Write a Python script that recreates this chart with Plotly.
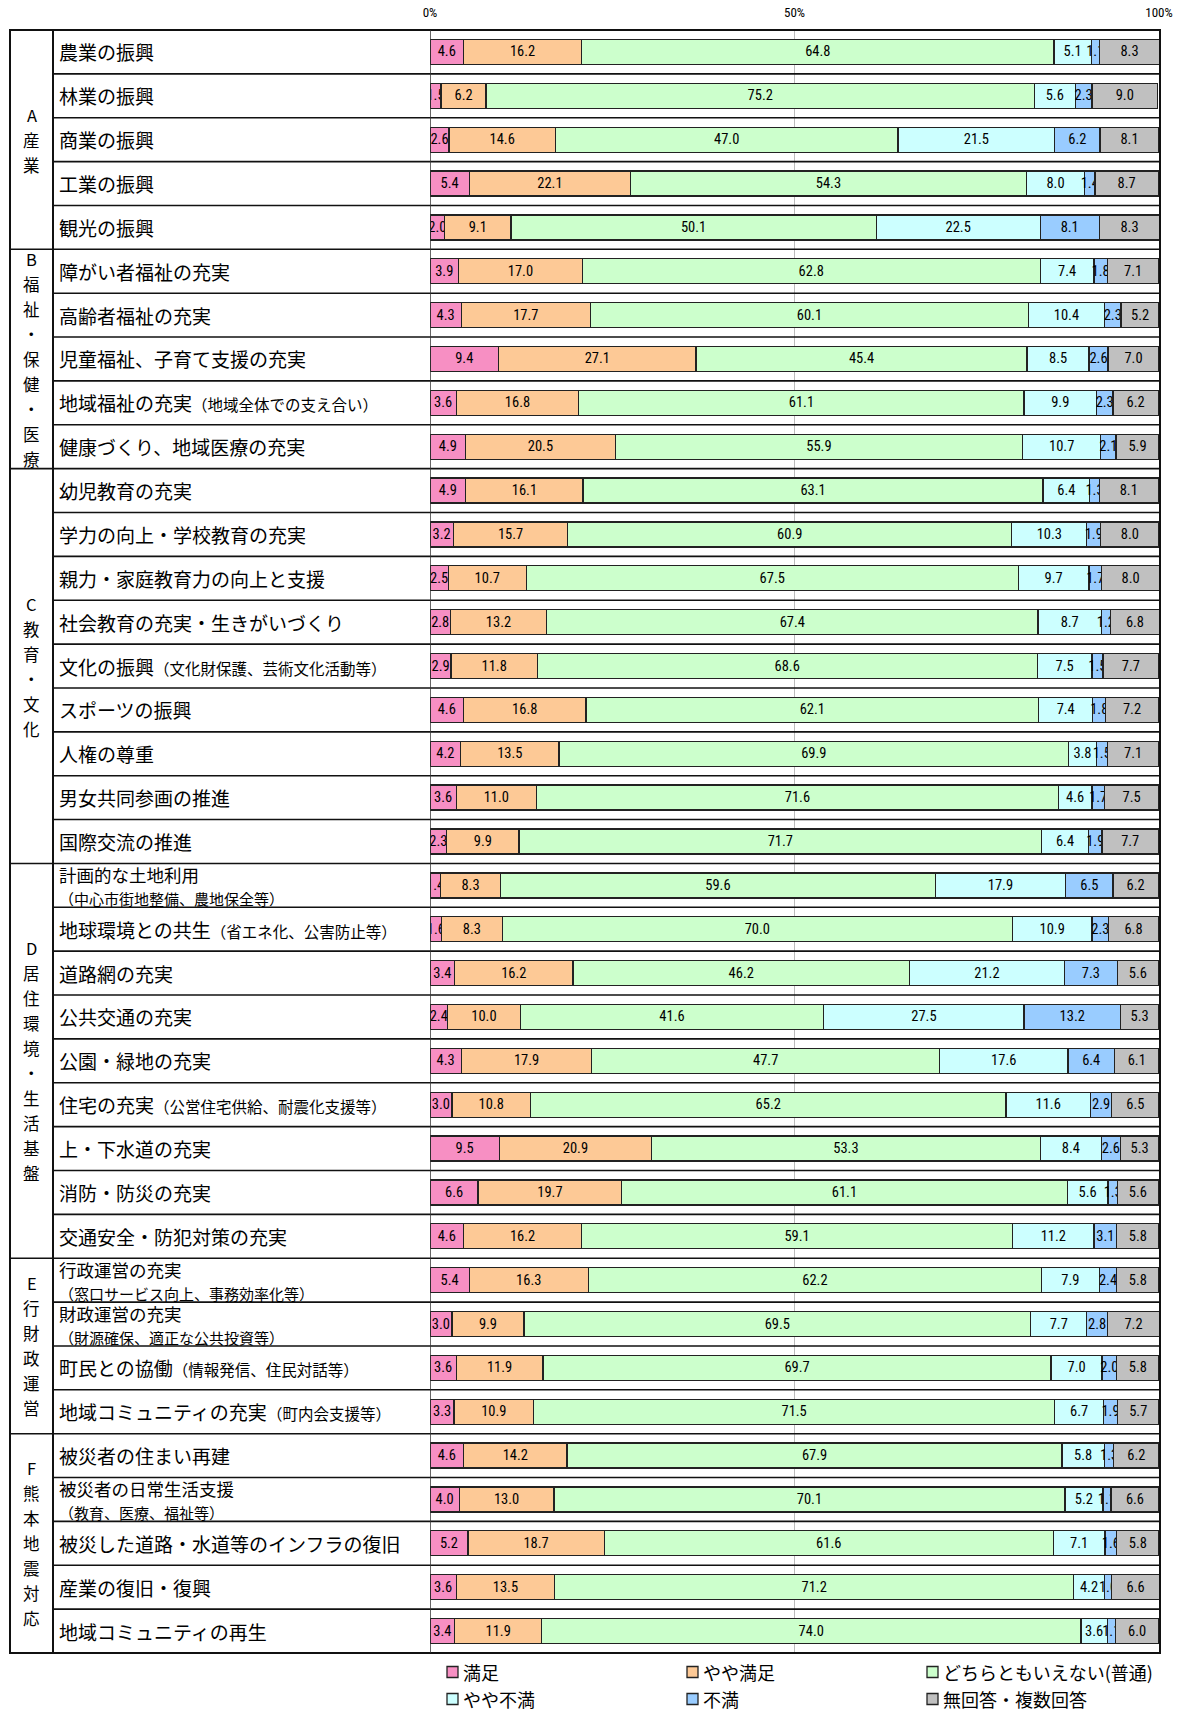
import plotly.graph_objects as go

# ---------------- data ----------------
series_names = ["満足", "やや満足", "どちらともいえない(普通)", "やや不満", "不満", "無回答・複数回答"]

categories = [
    "農業の振興", "林業の振興", "商業の振興", "工業の振興", "観光の振興",
    "障がい者福祉の充実", "高齢者福祉の充実", "児童福祉、子育て支援の充実",
    "地域福祉の充実（地域全体での支え合い）", "健康づくり、地域医療の充実",
    "幼児教育の充実", "学力の向上・学校教育の充実", "親力・家庭教育力の向上と支援",
    "社会教育の充実・生きがいづくり", "文化の振興（文化財保護、芸術文化活動等）",
    "スポーツの振興", "人権の尊重", "男女共同参画の推進", "国際交流の推進",
    "計画的な土地利用（中心市街地整備、農地保全等）", "地球環境との共生（省エネ化、公害防止等）",
    "道路網の充実", "公共交通の充実", "公園・緑地の充実", "住宅の充実（公営住宅供給、耐震化支援等）",
    "上・下水道の充実", "消防・防災の充実", "交通安全・防犯対策の充実",
    "行政運営の充実（窓口サービス向上、事務効率化等）", "財政運営の充実（財源確保、適正な公共投資等）",
    "町民との協働（情報発信、住民対話等）", "地域コミュニティの充実（町内会支援等）",
    "被災者の住まい再建", "被災者の日常生活支援（教育、医療、福祉等）",
    "被災した道路・水道等のインフラの復旧", "産業の復旧・復興", "地域コミュニティの再生",
]

two_line_items = [
    "計画的な土地利用（中心市街地整備、農地保全等）",
    "行政運営の充実（窓口サービス向上、事務効率化等）",
    "財政運営の充実（財源確保、適正な公共投資等）",
    "被災者の日常生活支援（教育、医療、福祉等）",
]

group_labels = ["A産業", "B福祉・保健・医療", "C教育・文化", "D居住環境・生活基盤", "E行財政運営", "F熊本地震対応"]
group_sizes = [5, 5, 9, 9, 4, 5]

satisfied = [4.6, 1.5, 2.6, 5.4, 2.0,
             3.9, 4.3, 9.4, 3.6, 4.9,
             4.9, 3.2, 2.5, 2.8, 2.9, 4.6, 4.2, 3.6, 2.3,
             1.4, 1.6, 3.4, 2.4, 4.3, 3.0, 9.5, 6.6, 4.6,
             5.4, 3.0, 3.6, 3.3,
             4.6, 4.0, 5.2, 3.6, 3.4]
somewhat_satisfied = [16.2, 6.2, 14.6, 22.1, 9.1,
                      17.0, 17.7, 27.1, 16.8, 20.5,
                      16.1, 15.7, 10.7, 13.2, 11.8, 16.8, 13.5, 11.0, 9.9,
                      8.3, 8.3, 16.2, 10.0, 17.9, 10.8, 20.9, 19.7, 16.2,
                      16.3, 9.9, 11.9, 10.9,
                      14.2, 13.0, 18.7, 13.5, 11.9]
neutral = [64.8, 75.2, 47.0, 54.3, 50.1,
           62.8, 60.1, 45.4, 61.1, 55.9,
           63.1, 60.9, 67.5, 67.4, 68.6, 62.1, 69.9, 71.6, 71.7,
           59.6, 70.0, 46.2, 41.6, 47.7, 65.2, 53.3, 61.1, 59.1,
           62.2, 69.5, 69.7, 71.5,
           67.9, 70.1, 61.6, 71.2, 74.0]
somewhat_dissatisfied = [5.1, 5.6, 21.5, 8.0, 22.5,
                         7.4, 10.4, 8.5, 9.9, 10.7,
                         6.4, 10.3, 9.7, 8.7, 7.5, 7.4, 3.8, 4.6, 6.4,
                         17.9, 10.9, 21.2, 27.5, 17.6, 11.6, 8.4, 5.6, 11.2,
                         7.9, 7.7, 7.0, 6.7,
                         5.8, 5.2, 7.1, 4.2, 3.6]
dissatisfied = [1.1, 2.3, 6.2, 1.4, 8.1,
                1.8, 2.3, 2.6, 2.3, 2.1,
                1.3, 1.9, 1.7, 1.2, 1.5, 1.8, 1.5, 1.7, 1.9,
                6.5, 2.3, 7.3, 13.2, 6.4, 2.9, 2.6, 1.3, 3.1,
                2.4, 2.8, 2.0, 1.9,
                1.3, 1.1, 1.6, 1.0, 1.1]
no_answer = [8.3, 9.0, 8.1, 8.7, 8.3,
             7.1, 5.2, 7.0, 6.2, 5.9,
             8.1, 8.0, 8.0, 6.8, 7.7, 7.2, 7.1, 7.5, 7.7,
             6.2, 6.8, 5.6, 5.3, 6.1, 6.5, 5.3, 5.6, 5.8,
             5.8, 7.2, 5.8, 5.7,
             6.2, 6.6, 5.8, 6.6, 6.0]

tick_values = [0, 50, 100]
tick_labels = ["0%", "50%", "100%"]

# ---------------- style ----------------
colors = ["#F78FC3", "#FDC996", "#CCFFCC", "#CCFFFF", "#99CCFF", "#C0C0C0"]
JP = "Noto Sans CJK JP, Noto Sans, sans-serif"
NARROW = "Liberation Sans Narrow, Arial Narrow, Roboto Condensed, DejaVu Sans Condensed, Liberation Sans, sans-serif"

W, H = 1184, 1714
PX_L, PX_R, PX_T, PX_B = 430, 1159, 30, 1653


def px_x(p):
    return (p - PX_L) / (PX_R - PX_L)


def px_y(p):
    return (PX_B - p) / (PX_B - PX_T)


series = [satisfied, somewhat_satisfied, neutral, somewhat_dissatisfied, dissatisfied, no_answer]

fig = go.Figure()
for name, vals, col in zip(series_names, series, colors):
    fig.add_trace(go.Bar(
        y=categories, x=vals, name=name, orientation="h",
        marker=dict(color=col, line=dict(color="#222222", width=1.3)),
        text=[f"{v:.1f}" for v in vals],
        textposition="inside", insidetextanchor="middle", textangle=0,
        textfont=dict(family=NARROW, size=14.5, color="black"),
        showlegend=False,
    ))

annotations = []
shapes = []

# item labels (left-aligned)
for cat in categories:
    two = cat in two_line_items
    if "（" in cat:
        main, sub = cat.split("（", 1)
        sep = "<br>" if two else ""
        sub_size = 15 if two else 15.5
        txt = f"{main}{sep}<span style='font-size:{sub_size}px'>（{sub}</span>"
    else:
        txt = cat
    annotations.append(dict(
        x=px_x(57), xref="paper", y=cat, yref="y", text=txt, showarrow=False,
        xanchor="left", yanchor="middle", align="left",
        font=dict(family=JP, size=17.5 if two else 19, color="black"),
    ))

# group labels (vertical stacked characters)
start = 0
for lab, n in zip(group_labels, group_sizes):
    center = start + (n - 1) / 2
    chars = list(lab)
    m = len(chars)
    for k, ch in enumerate(chars):
        annotations.append(dict(
            x=px_x(31.5), xref="paper", y=center, yref="y", text=ch, showarrow=False,
            xanchor="center", yanchor="middle", yshift=((m - 1) / 2 - k) * 25,
            font=dict(family=JP, size=16.5, color="black"),
        ))
    start += n

# row separators
boundaries = set()
acc = 0
for n in group_sizes[:-1]:
    acc += n
    boundaries.add(acc)
for i in range(1, len(categories)):
    x0 = 10 if i in boundaries else 53
    shapes.append(dict(type="line", xref="paper", yref="y",
                       x0=px_x(x0), x1=px_x(1160), y0=i - 0.5, y1=i - 0.5,
                       line=dict(color="#111111", width=1.6)))

# table frame
shapes.append(dict(type="rect", xref="paper", yref="paper",
                   x0=px_x(10), x1=px_x(1160), y0=0, y1=1,
                   line=dict(color="#111111", width=2)))
shapes.append(dict(type="line", xref="paper", yref="paper",
                   x0=px_x(53), x1=px_x(53), y0=0, y1=1,
                   line=dict(color="#111111", width=2)))
shapes.append(dict(type="line", xref="x", yref="paper",
                   x0=0, x1=0, y0=0, y1=1,
                   line=dict(color="#333333", width=1.5)))

# legend (two rows x three columns)
leg_cols = [447, 687, 927]
leg_rows = [1672, 1699]
for idx, (name, col) in enumerate(zip(series_names, colors)):
    cx = leg_cols[idx % 3]
    cy = leg_rows[idx // 3]
    shapes.append(dict(type="rect", xref="paper", yref="paper",
                       x0=px_x(cx), x1=px_x(cx + 11), y0=px_y(cy + 5.5), y1=px_y(cy - 5.5),
                       fillcolor=col, line=dict(color="#222222", width=1.3)))
    annotations.append(dict(
        x=px_x(cx + 14), xref="paper", y=px_y(cy), yref="paper", text=name, showarrow=False,
        xanchor="left", yanchor="middle", font=dict(family=JP, size=18, color="black"),
    ))

fig.update_layout(
    width=W, height=H,
    margin=dict(l=PX_L, r=W - PX_R, t=PX_T, b=H - PX_B, autoexpand=False),
    barmode="stack", bargap=0.43,
    paper_bgcolor="white", plot_bgcolor="white",
    uniformtext=dict(minsize=14.5, mode="show"),
    annotations=annotations, shapes=shapes,
    xaxis=dict(range=[0, 100], side="top", tickvals=tick_values, ticktext=tick_labels,
               showgrid=True, gridcolor="#BBBBBB", gridwidth=1, zeroline=False,
               showline=False, ticks="", ticklabelstandoff=9,
               tickfont=dict(family=NARROW, size=13, color="black"), fixedrange=True),
    yaxis=dict(type="category", categoryorder="array", categoryarray=categories,
               range=[len(categories) - 0.5, -0.5], showticklabels=False,
               showgrid=False, zeroline=False, fixedrange=True),
)

fig.write_html("out.html", config={"displayModeBar": False},
               post_script="document.body.style.margin='0';document.body.style.overflow='hidden';")
